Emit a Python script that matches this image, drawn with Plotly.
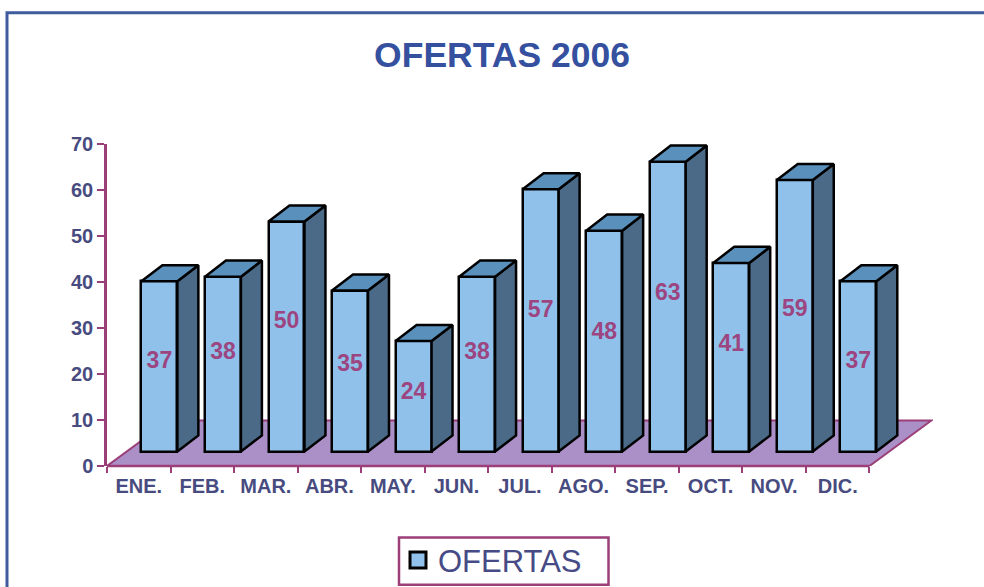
import plotly.graph_objects as go

categories = ["ENE.", "FEB.", "MAR.", "ABR.", "MAY.", "JUN.", "JUL.", "AGO.", "SEP.", "OCT.", "NOV.", "DIC."]
ofertas = [37, 38, 50, 35, 24, 38, 57, 48, 63, 41, 59, 37]

# --- layout constants, not data ---
W, H = 984, 587
L, R, T, B = 107, 933, 144, 466.5
label_nudge = [0.8, 2.3, 3.2, 1.2, 0.6, 2.3, 1.9, 1.8, 2.6, 2.5, 1.3, 0.9]
BAR_SHIFT, BAR_W = 0.325, 0.566
BASE = 3.15
DEPTH_X, DEPTH_Y = 0.33, 3.5
FLOOR_X, FLOOR_Y = 0.975, 9.9

FRONT, SIDE, TOPC = "#8FC1EB", "#4A6A88", "#5A90BC"
FLOOR, AXIS, TICKC = "#AB90C8", "#9C3F78", "#474B80"
LABELC, BORDER, TITLEC = "#9C4580", "#3F5B9E", "#34509E"
FONT = "Liberation Sans"

xs = [i + BAR_SHIFT for i in range(len(categories))]

side_x, side_y, top_x, top_y = [], [], [], []
for x, v in zip(xs, ofertas):
    r = x + BAR_W / 2
    l = x - BAR_W / 2
    t = BASE + v
    side_x += [r, r + DEPTH_X, r + DEPTH_X, r, r, None]
    side_y += [BASE, BASE + DEPTH_Y, t + DEPTH_Y, t, BASE, None]
    top_x += [l, l + DEPTH_X, r + DEPTH_X, r, l, None]
    top_y += [t, t + DEPTH_Y, t + DEPTH_Y, t, t, None]

fig = go.Figure()
fig.add_trace(go.Bar(
    x=xs, y=ofertas, base=BASE, width=BAR_W, name="OFERTAS", showlegend=False,
    marker=dict(color=FRONT, line=dict(color="black", width=2.5)),
))
fig.add_trace(go.Scatter(x=side_x, y=side_y, mode="lines", fill="toself", fillcolor=SIDE, cliponaxis=False,
                         line=dict(color="black", width=2.5), showlegend=False, hoverinfo="skip"))
fig.add_trace(go.Scatter(x=top_x, y=top_y, mode="lines", fill="toself", fillcolor=TOPC, cliponaxis=False,
                         line=dict(color="black", width=2.5), showlegend=False, hoverinfo="skip"))
fig.add_trace(go.Scatter(
    x=xs, y=[BASE + v / 2 + n for v, n in zip(ofertas, label_nudge)],
    mode="text", text=[str(v) for v in ofertas], textposition="middle center",
    textfont=dict(family=FONT, size=23, color=LABELC, weight="bold"),
    showlegend=False, hoverinfo="skip",
))
# legend entry with a larger square swatch than a bar trace allows
fig.add_trace(go.Scatter(
    x=[None], y=[None], mode="markers", name="OFERTAS", showlegend=True,
    marker=dict(symbol="square", size=16, color=FRONT, line=dict(color="black", width=3)),
))

n = len(categories)
x0 = -0.5
x1 = n - 0.5
floor_path = (f"M {x0} 0 L {x1} 0 L {x1 + FLOOR_X} {FLOOR_Y} "
              f"L {x0 + FLOOR_X} {FLOOR_Y} Z")
px = lambda p: (p - L) / (R - L)
py = lambda p: (B - p) / (B - T)

fig.update_layout(
    width=W, height=H,
    autosize=False,
    margin=dict(l=L, r=W - R, t=T, b=H - B, pad=0, autoexpand=False),
    paper_bgcolor="white", plot_bgcolor="rgba(0,0,0,0)",
    bargap=0,
    title=dict(text="OFERTAS 2006", x=502 / W, y=1 - 55 / H, xref="container", yref="container",
               xanchor="center", yanchor="middle",
               font=dict(family=FONT, size=35.5, color=TITLEC, weight="bold")),
    legend=dict(
        x=px(398), y=py(534), xanchor="left", yanchor="top",
        borderwidth=0, bgcolor="rgba(0,0,0,0)",
        font=dict(family=FONT, size=31, color="#474B85"),
        itemwidth=30,
    ),
    shapes=[
        dict(type="path", layer="below", xref="x", yref="y", path=floor_path,
             fillcolor=FLOOR, line=dict(color=AXIS, width=2)),
        dict(type="line", layer="above", xref="x", yref="paper", x0=x0, x1=x1, y0=0, y1=0,
             line=dict(color=AXIS, width=2.5)),
        dict(type="path", layer="above", xref="paper", yref="paper",
             path=f"M {px(7)} {py(600)} L {px(7)} {py(12.5)} L {px(1000)} {py(12.5)}",
             line=dict(color=BORDER, width=3)),
        dict(type="rect", layer="above", xref="paper", yref="paper",
             x0=px(399), x1=px(608.5), y0=py(585.5), y1=py(538),
             line=dict(color=AXIS, width=2.5)),
    ],
    xaxis=dict(
        range=[-0.5, 12.5], tickvals=list(range(n)), ticktext=categories, ticks="",
        showgrid=False, zeroline=False, showline=False,
        ticklabelstandoff=6,
        tickfont=dict(family=FONT, size=20, color=TICKC, weight="bold"),
        minor=dict(tickvals=[x0 + i for i in range(n + 1)], ticks="outside", ticklen=6,
                   tickwidth=2, tickcolor=AXIS, showgrid=False),
    ),
    yaxis=dict(
        range=[0, 70], tickvals=list(range(0, 71, 10)), ticks="outside", ticklen=7, tickwidth=2,
        tickcolor=AXIS, showgrid=False, zeroline=False, showline=True, linecolor=AXIS, linewidth=2.5,
        tickfont=dict(family=FONT, size=20, color=TICKC, weight="bold"),
    ),
)
fig.write_html("out.html", config=dict(displayModeBar=False),
               post_script="document.body.style.margin='0';document.documentElement.style.overflow='hidden';")
